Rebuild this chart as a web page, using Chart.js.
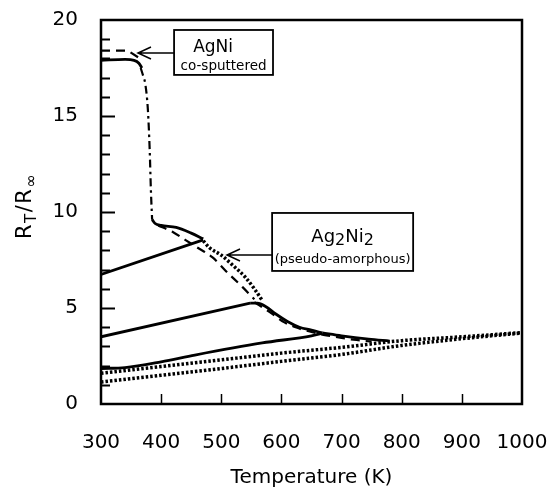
<!DOCTYPE html>
<html>
<head>
<meta charset="utf-8">
<script src="https://cdn.jsdelivr.net/npm/chart.js@4.4.0/dist/chart.umd.min.js"></script>
<style>
  html, body { margin: 0; padding: 0; background: #fff; }
  #wrap { width: 550px; height: 488px; }
</style>
</head>
<body>
<div id="wrap"><canvas id="rr"></canvas></div>
<script>
const tempTicks = [300, 400, 500, 600, 700, 800, 900, 1000];
const ratioTicks = [0, 5, 10, 15, 20];

// AgNi co-sputtered: initial plateau, dashed twin, and the sharp drop
const agniSolidT = [300, 340, 355, 363, 368];
const agniSolidR = [17.9, 17.95, 17.9, 17.75, 17.5];
const agniDashT = [300, 345, 362];
const agniDashR = [18.4, 18.4, 18.05];
const dropT = [366, 370, 374, 378, 381, 383, 385];
const dropR = [17.5, 17.1, 16.6, 15.3, 13.2, 11.1, 9.6];

// after the drop, up to the first reversal
const run1T = [385, 390, 400, 425, 450, 470];
const run1R = [9.6, 9.4, 9.3, 9.2, 8.9, 8.6];
const back1T = [300, 470];
const back1R = [6.75, 8.55];

// Ag2Ni2 decay branches between the reversals
const dot1T = [470, 480, 500, 520, 540, 555, 568];
const dot1R = [8.5, 8.15, 7.75, 7.2, 6.6, 6.0, 5.4];
const dash1T = [395, 420, 440, 460, 485, 510, 535, 555];
const dash1R = [9.3, 8.95, 8.55, 8.15, 7.65, 6.85, 6.1, 5.45];

// second cycle
const back2T = [300, 548];
const back2R = [3.5, 5.25];
const run2T = [548, 560, 575, 590, 610, 630, 650, 668];
const run2R = [5.25, 5.25, 5.05, 4.7, 4.3, 4.0, 3.85, 3.7];
const dash2T = [555, 580, 605, 625, 650, 670, 690, 720, 750];
const dash2R = [5.3, 4.8, 4.25, 3.98, 3.75, 3.6, 3.5, 3.35, 3.25];

// third cycle
const back3T = [300, 340, 400, 456, 568, 650, 668];
const back3R = [1.85, 1.9, 2.2, 2.55, 3.18, 3.55, 3.68];
const run3T = [668, 700, 745, 780];
const run3R = [3.7, 3.55, 3.38, 3.28];

// relaxed state, heating runs up to 1000 K
const relaxT = [300, 400, 500, 600, 700, 800, 900, 1000];
const relaxUpperR = [1.6, 1.95, 2.3, 2.65, 2.95, 3.3, 3.5, 3.72];
const relaxLowerR = [1.15, 1.5, 1.85, 2.22, 2.58, 3.05, 3.4, 3.7];

// labels: box corners and arrow tips in (T, R)
const agniBox = { t1: 421.5, r1: 19.48, t2: 586, r2: 17.14, tipT: 361.5, tipR: 18.28 };
const ag2Box = { t1: 584.5, r1: 9.95, t2: 819, r2: 6.93, tipT: 509.5, tipR: 7.76 };

const FONT = "'DejaVu Sans', sans-serif";

function pts(T, R) {
  return T.map((t, i) => ({ x: t, y: R[i] }));
}

const SOLID = { borderWidth: 2.8, borderDash: [] };
const DASH = { borderWidth: 2.2, borderDash: [9, 6] };
const DOT = { borderWidth: 3.5, borderDash: [2.5, 2] };
const DASHDOT = { borderWidth: 2.2, borderDash: [8, 4, 2.5, 4] };

function line(T, R, style, tension) {
  return Object.assign({
    data: pts(T, R),
    showLine: true,
    pointRadius: 0,
    borderColor: '#000',
    backgroundColor: '#000',
    fill: false,
    tension: tension || 0,
    cubicInterpolationMode: tension ? 'monotone' : 'default'
  }, style);
}

const frame = {
  id: 'frame',
  afterDraw(chart) {
    const ctx = chart.ctx;
    const a = chart.chartArea;
    const sx = chart.scales.x, sy = chart.scales.y;
    ctx.save();
    ctx.strokeStyle = '#000';
    ctx.lineWidth = 2.5;
    ctx.strokeRect(a.left, a.top, a.right - a.left, a.bottom - a.top);

    // inward ticks
    ctx.lineWidth = 2;
    for (let v = 1; v < 20; v++) {
      const y = Math.round(sy.getPixelForValue(v)) + 0.5;
      const len = v % 5 === 0 ? 14 : 9;
      ctx.beginPath();
      ctx.moveTo(a.left, y);
      ctx.lineTo(a.left + len, y);
      ctx.stroke();
    }
    ctx.lineWidth = 1.5;
    tempTicks.slice(1, -1).forEach(t => {
      const x = Math.round(sx.getPixelForValue(t)) + 0.5;
      ctx.beginPath();
      ctx.moveTo(x, a.bottom);
      ctx.lineTo(x, a.bottom - 10);
      ctx.stroke();
    });

    // axis titles
    ctx.fillStyle = '#000';
    ctx.textAlign = 'center';
    ctx.textBaseline = 'alphabetic';
    ctx.font = '20px ' + FONT;
    ctx.fillText('Temperature (K)', (a.left + a.right) / 2, 483);

    ctx.save();
    ctx.translate(31, 206);
    ctx.rotate(-Math.PI / 2);
    const parts = [['R', 21, 0], ['T', 15, 5], ['/', 21, 0], ['R', 21, 0], ['\u221E', 16, 5]];
    let w = 0;
    parts.forEach(p => { ctx.font = p[1] + 'px ' + FONT; w += ctx.measureText(p[0]).width + 1.5; });
    let x = -w / 2;
    ctx.textAlign = 'left';
    parts.forEach(p => {
      ctx.font = p[1] + 'px ' + FONT;
      ctx.fillText(p[0], x, p[2]);
      x += ctx.measureText(p[0]).width + 1.5;
    });
    ctx.restore();

    // labelled boxes with arrows
    function box(b) {
      const x1 = sx.getPixelForValue(b.t1), x2 = sx.getPixelForValue(b.t2);
      const y1 = sy.getPixelForValue(b.r1), y2 = sy.getPixelForValue(b.r2);
      ctx.lineWidth = 1.8;
      ctx.strokeRect(x1, y1, x2 - x1, y2 - y1);
      const tx = sx.getPixelForValue(b.tipT), ty = sy.getPixelForValue(b.tipR);
      ctx.lineWidth = 1.5;
      ctx.beginPath();
      ctx.moveTo(x1, ty);
      ctx.lineTo(tx, ty);
      ctx.moveTo(tx + 13, ty - 6);
      ctx.lineTo(tx, ty);
      ctx.lineTo(tx + 13, ty + 6);
      ctx.stroke();
      return { x1, x2, y1, y2 };
    }

    const b1 = box(agniBox);
    ctx.textAlign = 'center';
    ctx.font = '17px ' + FONT;
    ctx.fillText('AgNi', b1.x1 + 39, b1.y1 + 22);
    ctx.font = '13.5px ' + FONT;
    ctx.fillText('co-sputtered', (b1.x1 + b1.x2) / 2, b1.y1 + 40);

    const b2 = box(ag2Box);
    const sub = [['Ag', 18, 0], ['2', 16, 3], ['Ni', 18, 0], ['2', 16, 3]];
    let sw = 0;
    sub.forEach(p => { ctx.font = p[1] + 'px ' + FONT; sw += ctx.measureText(p[0]).width; });
    let sxp = (b2.x1 + b2.x2) / 2 - sw / 2;
    ctx.textAlign = 'left';
    sub.forEach(p => {
      ctx.font = p[1] + 'px ' + FONT;
      ctx.fillText(p[0], sxp, b2.y1 + 29 + p[2]);
      sxp += ctx.measureText(p[0]).width;
    });
    ctx.textAlign = 'center';
    ctx.font = '13px ' + FONT;
    ctx.fillText('(pseudo-amorphous)', (b2.x1 + b2.x2) / 2, b2.y1 + 50);
    ctx.restore();
  }
};

new Chart(document.getElementById('rr'), {
  type: 'scatter',
  data: {
    datasets: [
      line(agniSolidT, agniSolidR, SOLID, 0.3),
      line(agniDashT, agniDashR, DASH, 0),
      line(dropT, dropR, DASHDOT, 0.3),
      line(run1T, run1R, SOLID, 0.3),
      line(back1T, back1R, SOLID, 0),
      line(dot1T, dot1R, DOT, 0.3),
      line(dash1T, dash1R, DASH, 0.3),
      line(back2T, back2R, SOLID, 0),
      line(run2T, run2R, SOLID, 0.3),
      line(dash2T, dash2R, DASH, 0.3),
      line(back3T, back3R, SOLID, 0.3),
      line(run3T, run3R, SOLID, 0.3),
      line(relaxT, relaxUpperR, DOT, 0.3),
      line(relaxT, relaxLowerR, DOT, 0.3)
    ]
  },
  options: {
    responsive: true,
    maintainAspectRatio: false,
    animation: false,
    devicePixelRatio: 1,
    layout: { padding: { left: 0, top: 20, right: 28, bottom: 0 } },
    plugins: {
      legend: { display: false },
      tooltip: { enabled: false }
    },
    scales: {
      x: {
        type: 'linear',
        min: 300,
        max: 1000,
        afterBuildTicks: s => { s.ticks = tempTicks.map(v => ({ value: v })); },
        afterFit: s => { s.height = 84; s.paddingLeft = 0; s.paddingRight = 0; },
        grid: { display: false, drawTicks: false },
        border: { display: false },
        ticks: {
          color: '#000', padding: 27, maxRotation: 0, minRotation: 0, autoSkip: false,
          font: { family: FONT, size: 20 },
          callback: v => String(v)
        }
      },
      y: {
        min: 0,
        max: 20,
        afterBuildTicks: s => { s.ticks = ratioTicks.map(v => ({ value: v })); },
        afterFit: s => { s.width = 101; s.paddingTop = 0; s.paddingBottom = 0; },
        grid: { display: false, drawTicks: false },
        border: { display: false },
        ticks: { color: '#000', padding: 23, font: { family: FONT, size: 20 }, callback: v => String(v) }
      }
    }
  },
  plugins: [frame]
});
</script>
</body>
</html>
